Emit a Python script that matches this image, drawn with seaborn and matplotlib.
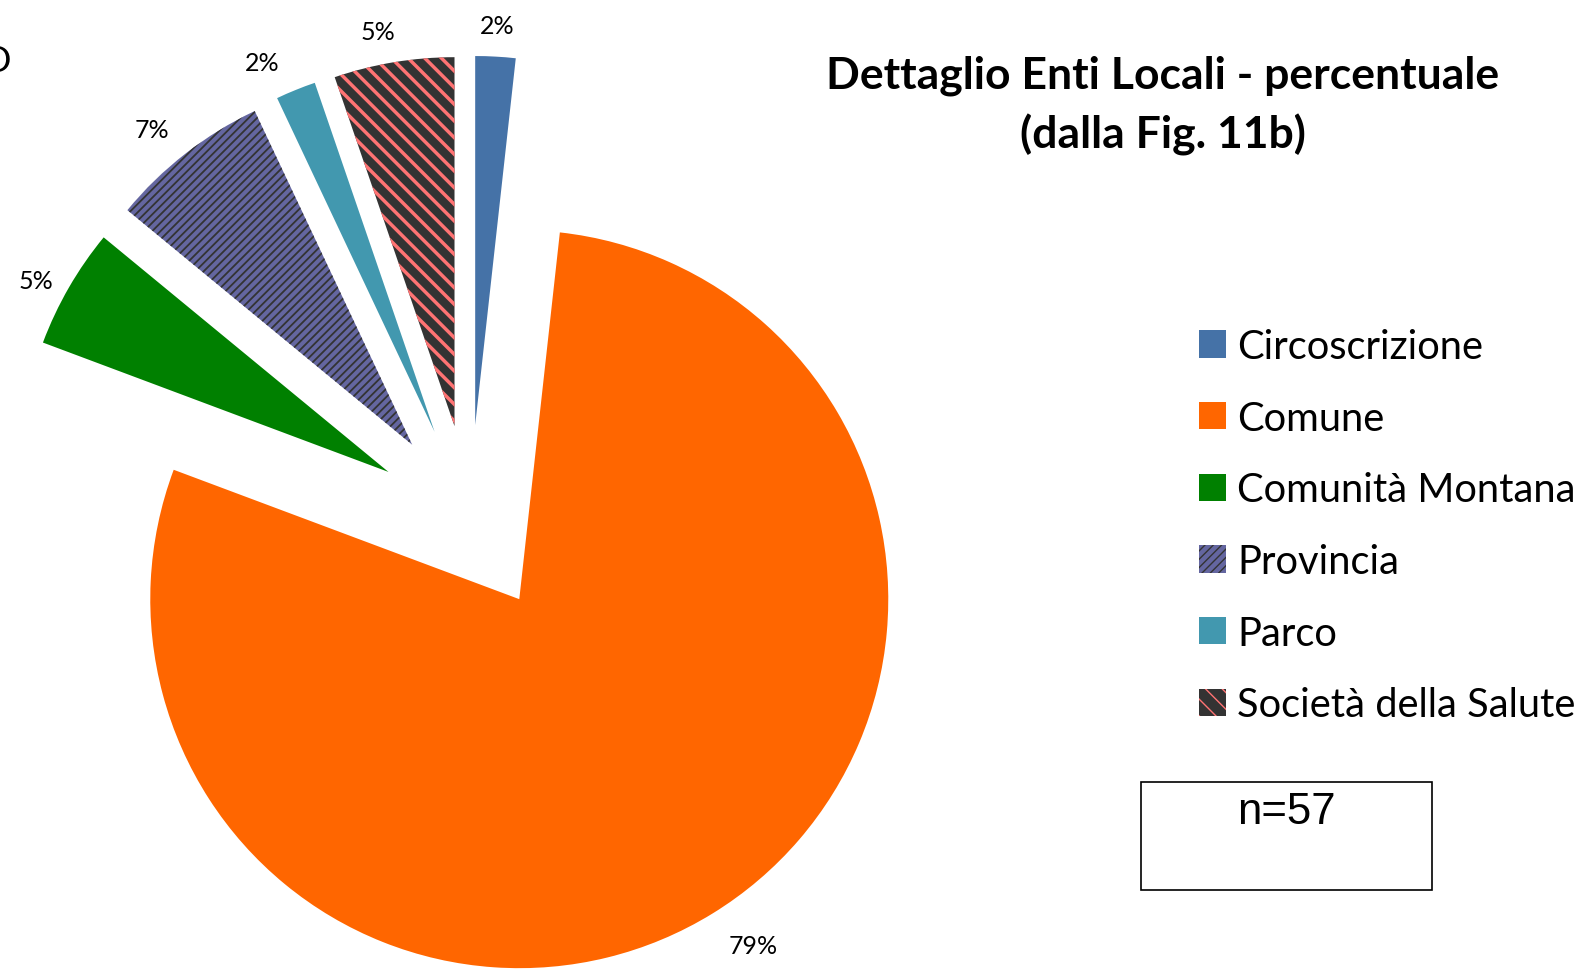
import matplotlib
matplotlib.use('Agg')
import matplotlib.pyplot as plt
import matplotlib.transforms as mtransforms
import seaborn as sns
from matplotlib.patches import Rectangle

# Data (n=57)
categories = ['Circoscrizione', 'Comune', 'Comunità Montana', 'Provincia', 'Parco', 'Società della Salute']
counts = [1, 45, 3, 4, 1, 3]
n_total = 57

face_colors = ['#4572A7', '#FF6600', '#008000', '#6466A0', '#4298AF', '#333333']
hatch_colors = [None, None, None, '#333333', None, '#FF7373']
hatches = [None, None, None, '////', None, '\\\\']
hatch_widths = [None, None, None, 1.3, None, 2.5]

# small nudges of the % labels (pixels, x right / y up), like Excel places them
label_nudge = [(-1, -9), (19, 3), (2, -13), (-9, -8), (-18, -10), (-9, -9)]

sns.set_theme(style='white')
plt.rcParams['font.family'] = ['Lato', 'DejaVu Sans']
plt.rcParams['text.color'] = 'black'

W, H = 1588, 970
fig = plt.figure(figsize=(W / 100, H / 100), dpi=100)

# pie centre and radius in pixels
cx, cy, r_px = 470, 520, 369
ax_w = 990
ax = fig.add_axes([0, 0, ax_w / W, 1])

wedges, texts, pcts = ax.pie(
    counts, startangle=90, counterclock=False,
    explode=[0.255] * len(counts),
    colors=face_colors,
    autopct='%.0f%%', pctdistance=1.11,
    wedgeprops=dict(linewidth=0),
    textprops=dict(fontsize=18, color='black'),
)
for w, hc, h, hw in zip(wedges, hatch_colors, hatches, hatch_widths):
    if h:
        w.set_hatch(h)
        w.set_edgecolor(hc)
        w.set_linewidth(0)
        if hasattr(w, 'set_hatch_linewidth'):
            w.set_hatch_linewidth(hw)
        else:
            plt.rcParams['hatch.linewidth'] = 1.9

for t, (dx, dy) in zip(pcts, label_nudge):
    t.set_transform(mtransforms.offset_copy(ax.transData, fig=fig, x=dx, y=dy, units='dots'))

ax.set_xlim(-cx / r_px, (ax_w - cx) / r_px)
ax.set_ylim(-(H - cy) / r_px, cy / r_px)
ax.set_aspect('auto')
ax.axis('off')

# title
fig.text(1163 / W, 1 - 106 / H, 'Dettaglio Enti Locali - percentuale\n(dalla Fig. 11b)',
         ha='center', va='center', fontsize=32, fontweight='bold', linespacing=1.52)

# leftover letter cut at the edge
fig.text(11 / W, 1 - 62 / H, 'D', ha='right', va='center', fontsize=26)

# legend
fs = 28.7
leg = fig.legend(wedges, categories, loc='upper left',
                 bbox_to_anchor=(1199 / W, 1 - 329 / H), frameon=False,
                 fontsize=fs, handlelength=19.5 / fs, handleheight=19.5 / fs,
                 handletextpad=8 / fs, labelspacing=0.87, borderpad=0, borderaxespad=0)

# n box
fig.patches.append(Rectangle((1141 / W, 1 - 891 / H), 291 / W, 108 / H,
                             transform=fig.transFigure, fill=False,
                             edgecolor='black', linewidth=1.2))
fig.text(1286 / W, 1 - 813 / H, 'n=%d' % n_total, ha='center', va='center',
         fontsize=31.5, family=['Liberation Sans', 'DejaVu Sans'])

fig.savefig('out.png', dpi=100)
